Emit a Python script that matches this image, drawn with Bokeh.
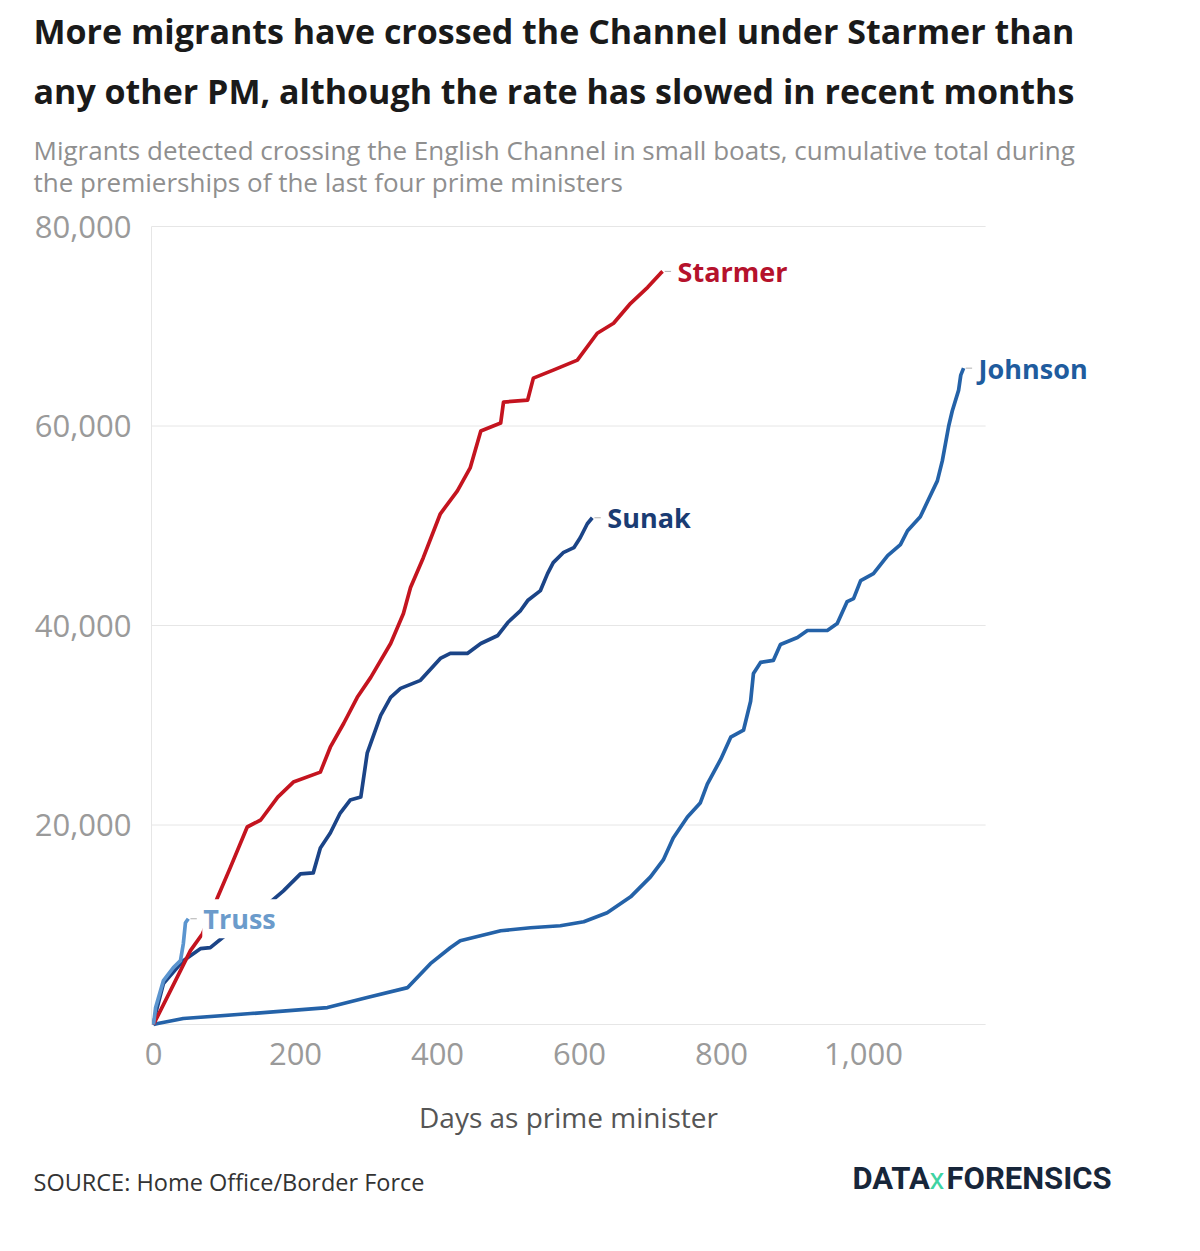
from bokeh.plotting import figure
from bokeh.models import Label, FixedTicker, Range1d
from bokeh.embed import file_html
from bokeh.resources import INLINE

# ---- data (days as PM, cumulative migrants) ----
starmer_days = [0, 38, 52, 69, 90, 108, 132, 151, 175, 197, 235, 249, 268, 287, 306, 334, 352, 362, 380, 404,
                428, 446, 461, 489, 493, 527, 535, 563, 597, 625, 648, 672, 696, 714, 717]
starmer_vals = [0, 5400, 7400, 9100, 12700, 15700, 19800, 20500, 22800, 24300, 25300, 27800, 30200, 32800,
                34800, 38200, 41200, 43800, 46800, 51200, 53500, 55800, 59500, 60300, 62400, 62600, 64800,
                65600, 66600, 69300, 70300, 72300, 73900, 75300, 75500]

sunak_days = [0, 3, 14, 42, 66, 80, 104, 155, 183, 207, 225, 235, 249, 263, 277, 292, 301, 320, 334, 348,
              376, 404, 418, 442, 461, 485, 499, 517, 527, 545, 555, 563, 577, 592, 601, 611, 618]
sunak_vals = [0, 1100, 4100, 6400, 7600, 7700, 9100, 11700, 13400, 15100, 15200, 17700, 19200, 21200,
              22500, 22800, 27200, 31000, 32800, 33700, 34500, 36700, 37200, 37200, 38200, 39000, 40300,
              41500, 42500, 43500, 45200, 46300, 47300, 47800, 48800, 50200, 50800]

johnson_days = [0, 6, 42, 137, 245, 301, 358, 390, 418, 432, 489, 531, 573, 606, 639, 672, 700, 718, 732,
                752, 770, 780, 799, 813, 831, 841, 845, 855, 873, 883, 907, 921, 949, 963, 977, 986, 996,
                1014, 1034, 1052, 1062, 1080, 1090, 1104, 1111, 1120, 1125, 1134, 1137, 1141]
johnson_vals = [0, 100, 600, 1100, 1700, 2700, 3700, 6100, 7700, 8400, 9400, 9700, 9900, 10300, 11200,
                12800, 14800, 16500, 18700, 20800, 22200, 24100, 26600, 28800, 29500, 32400, 35200, 36300,
                36500, 38100, 38800, 39500, 39500, 40200, 42400, 42700, 44500, 45200, 47000, 48100, 49500,
                50900, 52400, 54500, 56500, 60000, 61500, 63600, 65100, 65800]

truss_days = [0, 3, 14, 28, 38, 42, 45, 49]
truss_vals = [0, 1700, 4400, 5700, 6400, 8100, 10200, 10600]

series = [
    ("Johnson", johnson_days, johnson_vals, "#2462a8", "#1f5c9e"),
    ("Sunak", sunak_days, sunak_vals, "#1b4487", "#1a3c73"),
    ("Starmer", starmer_days, starmer_vals, "#c4141f", "#b5122c"),
    ("Truss", truss_days, truss_vals, "#5b95cf", "#6b9bcb"),
]

x_ticks = [0, 200, 400, 600, 800, 1000]
x_tick_labels = ["0", "200", "400", "600", "800", "1,000"]
y_ticks = [0, 20000, 40000, 60000, 80000]
y_tick_labels = ["", "20,000", "40,000", "60,000", "80,000"]
x_max = 1172  # right end of the gridlines (days)

title_lines = ["More migrants have crossed the Channel under Starmer than",
               "any other PM, although the rate has slowed in recent months"]
subtitle_lines = ["Migrants detected crossing the English Channel in small boats, cumulative total during",
                  "the premierships of the last four prime ministers"]
x_title = "Days as prime minister"
source_text = "SOURCE: Home Office/Border Force"

# ---- page geometry (pixels) ----
W, H = 1200, 1251
X0_PX, PX_PER_DAY = 153, 0.71          # where day 0 sits, pixels per day
Y0_PX, PX_PER_UNIT = 1024, 0.009975    # where 0 migrants sits, pixels per migrant
AXIS_PX = 151                          # y-axis line


def dx(px):
    return (px - X0_PX) / PX_PER_DAY


def dy(py):
    return (Y0_PX - py) / PX_PER_UNIT


p = figure(width=W, height=H, output_backend="svg", toolbar_location=None,
           x_range=Range1d(dx(0), dx(W)), y_range=Range1d(dy(H), dy(0)),
           min_border=0, background_fill_color="white", border_fill_color="white")
p.outline_line_color = None
p.grid.visible = False

# real axes, pinned inside the canvas
p.xaxis.fixed_location = 0
p.yaxis.fixed_location = dx(AXIS_PX)
p.xaxis.ticker = FixedTicker(ticks=x_ticks)
p.xaxis.major_label_overrides = dict(zip(x_ticks, x_tick_labels))
p.yaxis.ticker = FixedTicker(ticks=y_ticks)
p.yaxis.major_label_overrides = dict(zip(y_ticks, y_tick_labels))
for ax in (p.xaxis[0], p.yaxis[0]):
    ax.major_tick_line_color = None
    ax.minor_tick_line_color = None
    ax.major_tick_out = 0
    ax.major_tick_in = 0
    ax.major_label_text_font = "Open Sans"
    ax.major_label_text_font_size = "31px"
    ax.major_label_text_color = "#9a9a9a"
p.xaxis.axis_line_color = None
p.yaxis.axis_line_color = "#e6e6e6"
p.yaxis.bounds = (y_ticks[0], y_ticks[-1])
p.xaxis.major_label_standoff = 18
p.yaxis.major_label_standoff = 20

# horizontal gridlines
p.segment(x0=[dx(AXIS_PX)] * len(y_ticks), y0=y_ticks, x1=[x_max] * len(y_ticks), y1=y_ticks,
          line_color="#e6e6e6", line_width=1)

for name, xs, ys, col, tcol in series:
    p.line(xs, ys, line_color=col, line_width=3.7, line_join="round")
    p.segment(x0=[xs[-1] + 3], y0=[ys[-1]], x1=[xs[-1] + 12], y1=[ys[-1]], line_color="#b0b0b0", line_width=1)
    p.add_layout(Label(x=xs[-1], y=ys[-1], x_offset=14, text=name, text_baseline="middle",
                       text_font="Open Sans", text_font_style="bold", text_font_size="27px",
                       text_color=tcol, background_fill_color="white" if name == "Truss" else None,
                       padding=1))


def lab(px, py, text, size, color, font="Open Sans", style="normal", align="left"):
    p.add_layout(Label(x=dx(px), y=dy(py), text=text, text_font=font, text_font_style=style,
                       text_font_size=size, text_color=color, text_baseline="middle", text_align=align))


lab(33, 30, title_lines[0], "34px", "#1a1a1a", style="bold")
lab(33, 90, title_lines[1], "34px", "#1a1a1a", style="bold")
lab(33, 149, subtitle_lines[0], "26px", "#8f8f8f")
lab(33, 181, subtitle_lines[1], "26px", "#8f8f8f")
lab((AXIS_PX + 985) / 2, 1116, x_title, "28px", "#555555", align="center")
lab(33, 1181, source_text, "23.5px", "#333333")
lab(852, 1178, "DATA", "31px", "#17263a", font="Roboto", style="bold")
lab(929, 1178, "x", "30px", "#3fd3a3", font="Roboto")
lab(946, 1178, "FORENSICS", "31px", "#17263a", font="Roboto", style="bold")

open("out.html", "w").write(file_html(p, INLINE))
